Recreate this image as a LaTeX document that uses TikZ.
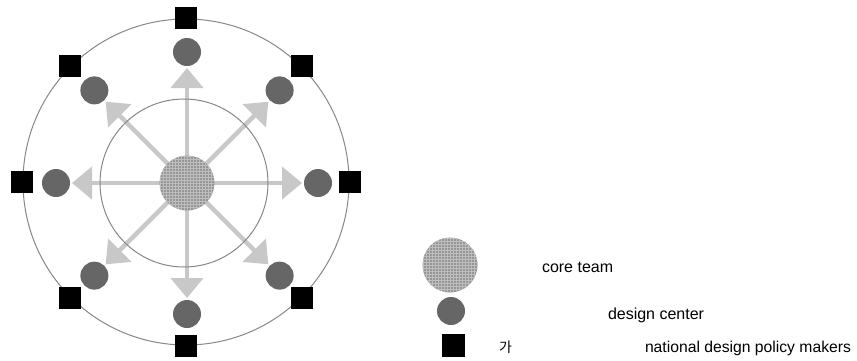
\documentclass[tikz,border=0pt]{standalone}
\usepackage{fontspec}
\setmainfont{Liberation Sans}
\newfontfamily\krfont{Noto Sans CJK KR}
\usetikzlibrary{arrows.meta,backgrounds,calc}
\definecolor{arrowgray}{RGB}{200,200,200}
\definecolor{ringgray}{RGB}{135,135,135}
\definecolor{centergray}{RGB}{102,102,102}
\definecolor{coregray}{RGB}{150,150,150}
\definecolor{gridlight}{RGB}{190,190,190}
\begin{document}
\begin{tikzpicture}[x=1pt,y=-1pt,
  every node/.style={inner sep=0pt,outer sep=0pt},
  coreteam/.style={circle,minimum size=55pt,fill=coregray,
    path picture={
      \foreach \k in {-30,-27,...,30} {
        \draw[gridlight,line width=0.9pt] ([xshift=\k pt]path picture bounding box.north) -- ([xshift=\k pt]path picture bounding box.south);
        \draw[gridlight,line width=0.9pt] ([yshift=\k pt]path picture bounding box.west) -- ([yshift=\k pt]path picture bounding box.east);
      }}},
  dcenter/.style={circle,minimum size=28pt,fill=centergray},
  policy/.style={rectangle,minimum size=22pt,fill=black},
  spoke/.style={arrowgray,line width=4.5pt,-{Triangle[length=20pt,width=32pt]}},
  lbl/.style={anchor=base west,font=\fontsize{16}{19}\selectfont}
]
\useasboundingbox (0,0) rectangle (857,360);

% core
\node[coreteam] (core) at (187,183) {};
\coordinate (C) at (187,183);

% arrow tips
\foreach \i/\a in {1/90,2/45,3/0,4/-45,5/-90,6/-135,7/180,8/135} {
  \coordinate (t\i) at ($(C)+(\a:115)$);
}

% design centers
\foreach \i/\a in {1/90,2/45,3/0,4/-45,5/-90,6/-135,7/180,8/135} {
  \node[dcenter] (d\i) at ($(C)+(\a:131)$) {};
}

% policy makers
\coordinate (O) at (186,182);
\foreach \i/\a in {1/90,2/45,3/0,4/-45,5/-90,6/-135,7/180,8/135} {
  \node[policy] (p\i) at ($(O)+(\a:164)$) {};
}

\begin{scope}[on background layer]
  \foreach \i in {1,...,8} { \draw[spoke] (core.center) -- (t\i); }
  \node[circle,draw=ringgray,line width=1pt,minimum size=168pt] (inner) at (184,183) {};
  \node[circle,draw=ringgray,line width=1pt,minimum size=326pt] (outer) at (186,182) {};
\end{scope}

% legend
\node[coreteam] (lcore) at (450,265) {};
\node[dcenter] (ldc) at (451,311) {};
\node[policy,minimum size=23pt] (lpm) at (453,345) {};

\node[lbl] (tcore) at (542,272) {core team};
\node[lbl] (tdc) at (608,319) {design center};
\node[lbl,font=\krfont\fontsize{14}{17}\selectfont] (tkr) at (499,352) {가};
\node[lbl,font=\fontsize{15.7}{19}\selectfont] (tpm) at (645,352.5) {national design policy makers};
\end{tikzpicture}
\end{document}
